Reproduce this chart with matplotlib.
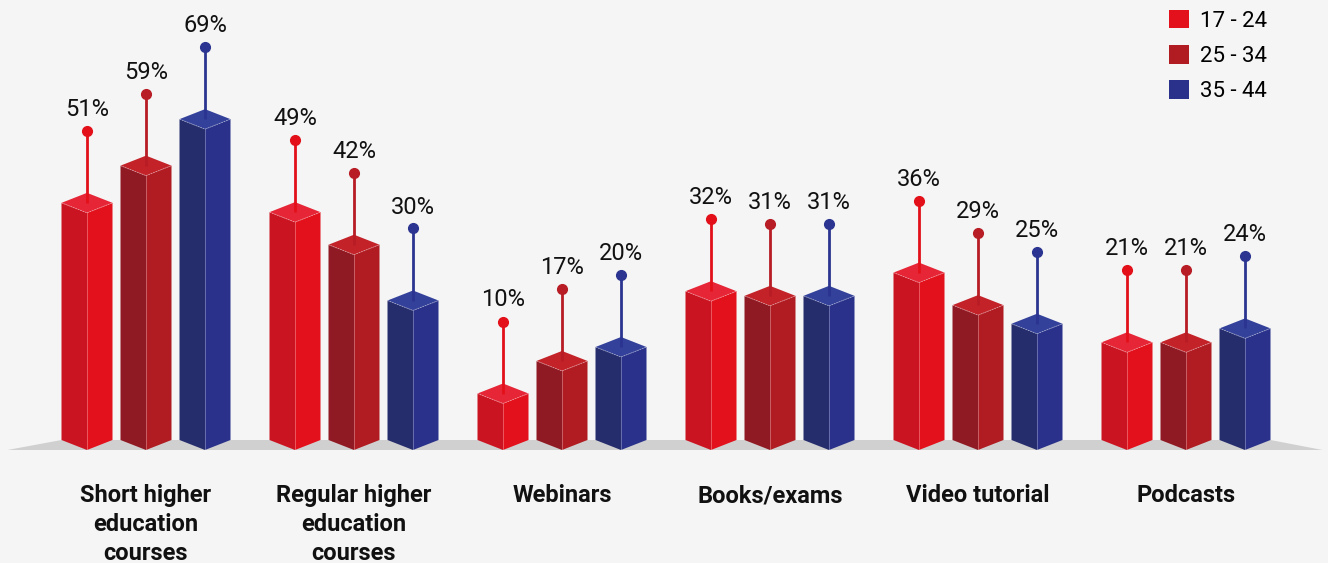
import numpy as np
import matplotlib.pyplot as plt
from matplotlib.patches import Polygon, Patch

plt.rcParams['font.family'] = ['Roboto', 'DejaVu Sans']

categories = ["Short higher\neducation\ncourses", "Regular higher\neducation\ncourses",
              "Webinars", "Books/exams", "Video tutorial", "Podcasts"]
series_names = ["17 - 24", "25 - 34", "35 - 44"]
age_17_24 = [51, 49, 10, 32, 36, 21]
age_25_34 = [59, 42, 17, 31, 29, 21]
age_35_44 = [69, 30, 20, 31, 25, 24]
values = [age_17_24, age_25_34, age_35_44]

# left face, right face, top face, pin
shades = [
    ("#cb1422", "#e3111b", "#e62536", "#e3101a"),
    ("#8f1a24", "#b01c22", "#c42229", "#b81c24"),
    ("#262d6c", "#29318a", "#33419a", "#2b3490"),
]
bg = "#f5f5f5"

W, H = 1328, 563
fig = plt.figure(figsize=(W / 100, H / 100), dpi=100, facecolor=bg)
ax = fig.add_axes([0, 0, 1, 1])
ax.set_facecolor(bg)
ax.axis("off")

# pixel scale: 208 px per group, 4.65 px per percent, baseline at 440 px
px_x = 208.0
px_y = 4.65
ax.set_xlim(-146 / px_x, (W - 146) / px_x)
ax.set_ylim(-(H - 440) / px_y, 440 / px_y)

step = 59 / px_x
hw = 25.5 / px_x
depth = 10 / px_y
pin = 72 / px_y

# floor
x_first = -step - hw
x_last = (len(categories) - 1) + step + hw
ax.add_patch(Polygon([(x_first - 54 / px_x, -depth), (x_first, 0), (x_last, 0),
                      (x_last + 52 / px_x, -depth)], closed=True,
                     facecolor="#d0d0d0", edgecolor="none", zorder=1))

for s, vals in enumerate(values):
    left_c, right_c, top_c, pin_c = shades[s]
    for i, v in enumerate(vals):
        c = i + (s - 1) * step
        ax.add_patch(Polygon([(c - hw, 0), (c, -depth), (c, v - depth), (c - hw, v)],
                             facecolor=left_c, edgecolor="none", zorder=2))
        ax.add_patch(Polygon([(c, -depth), (c + hw, 0), (c + hw, v), (c, v - depth)],
                             facecolor=right_c, edgecolor="none", zorder=2))
        ax.add_patch(Polygon([(c - hw, v), (c, v - depth), (c + hw, v), (c, v + depth)],
                             facecolor=top_c, edgecolor="none", zorder=3))
        # faint highlight edges
        ax.plot([c, c], [-depth, v - depth], color="white", lw=0.6, alpha=0.35, zorder=3)
        ax.plot([c - hw, c, c + hw], [v, v - depth, v], color="white", lw=0.6,
                alpha=0.4, ls=(0, (2, 1)), zorder=4)
        # pin
        ax.plot([c, c], [v, v + pin], color=pin_c, lw=2, zorder=5, solid_capstyle="butt")
        ax.plot(c, v + pin, "o", color=pin_c, ms=7, zorder=6)
        ax.annotate(f"{v}%", (c, v + pin), xytext=(0, 15), textcoords="offset pixels",
                    ha="center", va="baseline", fontsize=17, color="#111111", zorder=6)

for i, cat in enumerate(categories):
    ax.annotate(cat, (i, 0), xytext=(0, -44), textcoords="offset pixels",
                ha="center", va="top", fontsize=17, fontweight="bold",
                color="#111111", linespacing=1.34)

handles = [Patch(facecolor=shades[s][1], edgecolor="none") for s in range(3)]
ax.legend(handles, series_names, loc="upper left", frameon=False,
          bbox_to_anchor=(1169 / W, 1 - 10 / H), bbox_transform=fig.transFigure,
          fontsize=16, handlelength=0.9, handleheight=0.9, handletextpad=0.5,
          labelspacing=0.6, borderpad=0, borderaxespad=0)

fig.savefig("out.png", dpi=100, facecolor=bg)
